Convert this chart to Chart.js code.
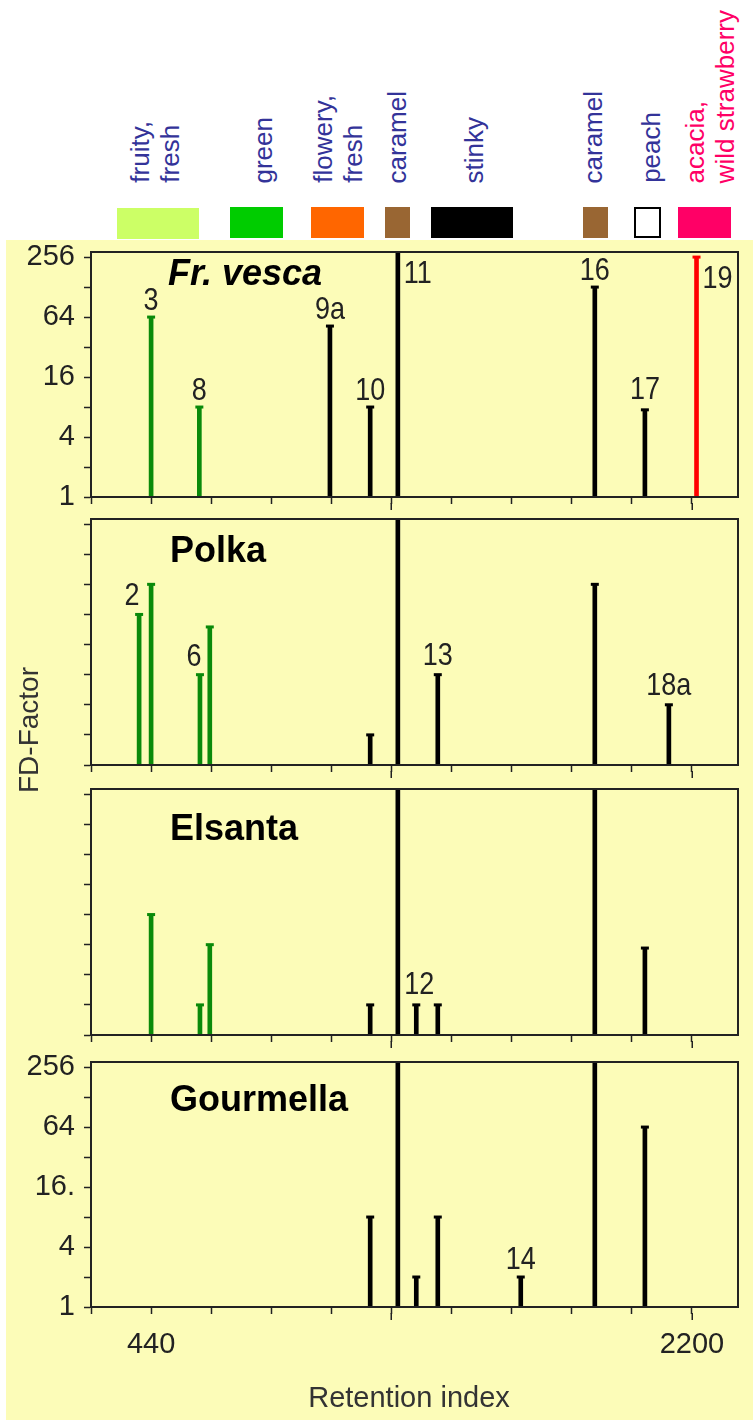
<!DOCTYPE html>
<html>
<head>
<meta charset="utf-8">
<script src="https://cdn.jsdelivr.net/npm/chart.js@4.4.1/dist/chart.umd.min.js"></script>
<style>
  body { margin: 0; background: #fff; }
  #wrap { position: relative; width: 753px; height: 1420px; overflow: hidden; font-family: "Liberation Sans", Arial, sans-serif; }
  #bg { position: absolute; left: 6px; top: 240px; width: 747px; height: 1180px; background: #fcfcb8; }
  .sw { position: absolute; top: 207px; height: 31px; }
  .lab { position: absolute; bottom: 1237px; writing-mode: vertical-rl; transform: rotate(180deg);
         font-size: 26px; line-height: 30px; color: #333399; white-space: nowrap; }
  canvas { position: absolute; left: 0; }
  #ylab { position: absolute; left: -71px; top: 713px; width: 200px; height: 34px; line-height: 34px;
          text-align: center; font-size: 28px; color: #333; transform: rotate(-90deg); }
  #xlab { position: absolute; left: 259px; top: 1380px; width: 300px; text-align: center;
          font-size: 29px; line-height: 34px; color: #333; }
</style>
</head>
<body>
<div id="wrap">
  <div id="bg"></div>

  <!-- odour colour key -->
  <div class="sw" style="left:117px;width:82px;top:208px;background:#ccff66"></div>
  <div class="sw" style="left:230px;width:53px;background:#00cc00"></div>
  <div class="sw" style="left:311px;width:53px;background:#ff6600"></div>
  <div class="sw" style="left:385px;width:25px;background:#996633"></div>
  <div class="sw" style="left:431px;width:82px;background:#000"></div>
  <div class="sw" style="left:583px;width:25px;background:#996633"></div>
  <div class="sw" style="left:634px;width:23px;height:27px;background:#fff;border:2px solid #000"></div>
  <div class="sw" style="left:678px;width:53px;background:#ff0066"></div>

  <div class="lab" style="left:125px">fruity,<br>fresh</div>
  <div class="lab" style="left:248px">green</div>
  <div class="lab" style="left:308px">flowery,<br>fresh</div>
  <div class="lab" style="left:382px">caramel</div>
  <div class="lab" style="left:459px">stinky</div>
  <div class="lab" style="left:578px">caramel</div>
  <div class="lab" style="left:636px">peach</div>
  <div class="lab" style="left:680px;color:#ff0066">acacia,<br>wild strawberry</div>

  <canvas id="p1"></canvas>
  <canvas id="p2"></canvas>
  <canvas id="p3"></canvas>
  <canvas id="p4"></canvas>

  <div id="ylab">FD-Factor</div>
  <div id="xlab">Retention index</div>
</div>

<script>
// axis ticks
const xTickValues = [244.4, 440, 635.6, 831.1, 1026.7, 1222.2, 1417.8, 1613.3, 1808.9, 2004.4, 2200]
const xTickLabels = ['', '440', '', '', '', '', '', '', '', '', '2200']
const yTickValues = [1, 2, 4, 8, 16, 32, 64, 128, 256]
const yTickLabels = ['1', '', '4', '', '16', '', '64', '', '256']
const yTickLabelsLast = ['1', '', '4', '', '16.', '', '64', '', '256']

// peaks: retention index, FD factor (512 = off scale), peak number shown
const vescaRI = [440, 597, 1022, 1153, 1243, 1884, 2047, 2215]
const vescaFD = [64, 8, 52, 8, 512, 128, 7.5, 256]
const vescaLabel = ['3', '8', '9a', '10', '11', '16', '17', '19']

const polkaRI = [401, 440, 599, 631, 1153, 1243, 1373, 1884, 2125]
const polkaFD = [32, 64, 8, 24, 2, 512, 8, 64, 4]
const polkaLabel = ['2', '', '6', '', '', '', '13', '', '18a']

const elsantaRI = [440, 599, 631, 1153, 1243, 1303, 1373, 1884, 2047]
const elsantaFD = [16, 2, 8, 2, 512, 2, 2, 512, 7.4]
const elsantaLabel = ['', '', '', '', '', '12', '', '', '']

const gourmellaRI = [1153, 1243, 1303, 1373, 1643, 1884, 2047]
const gourmellaFD = [8, 512, 2, 8, 2, 512, 64]
const gourmellaLabel = ['', '', '', '', '14', '', '']

const X_MIN = 244.4
const X_MAX = 2350
const Y_MAX = 288
const LONG_TICKS = [xTickValues[5], xTickValues[10]]

const AXIS = '#222'
const GREEN = '#0a8a0a'
const RED = '#ff0000'
const FONT = '"Liberation Sans", Arial, sans-serif'
const PAD = 30   // room above/below each box, larger than the tick label overhang

// label placement tweaks (style only)
const labelNudge = {
  '11': { side: true },
  '19': { side: true },
  '2': { dx: -7, gap: 9 },
  '6': { dx: -6, gap: 9 },
  '12': { dx: 3, gap: 11 },
  '13': { gap: 10 },
  '18a': { gap: 10 },
  '17': { gap: 11 },
  '14': { gap: 8 },
}

function stemColor(ri) {
  if (ri < 700) return GREEN
  if (ri > 2150) return RED
  return '#000'
}

function panelPlugin(p) {
  return {
    id: 'panelDeco',
    afterDraw(chart) {
      const ctx = chart.ctx
      const a = chart.chartArea
      const x = chart.scales.x
      const y = chart.scales.y
      ctx.save()

      ctx.strokeStyle = AXIS
      ctx.lineWidth = 2
      ctx.strokeRect(a.left, a.top, a.right - a.left, a.bottom - a.top)

      ctx.lineWidth = 1.5
      LONG_TICKS.forEach(v => {
        const px = Math.round(x.getPixelForValue(v)) + 0.25
        ctx.beginPath()
        ctx.moveTo(px, a.bottom + 6)
        ctx.lineTo(px, a.bottom + 13)
        ctx.stroke()
      })

      ctx.fillStyle = '#000'
      ctx.font = (p.italic ? 'italic ' : '') + 'bold 36px ' + FONT
      ctx.textAlign = 'left'
      ctx.textBaseline = 'alphabetic'
      ctx.fillText(p.title, p.titleX, a.top + p.titleDy)

      ctx.fillStyle = '#222'
      ctx.font = '27px ' + FONT
      p.labels.forEach((t, i) => {
        if (!t) return
        const px = x.getPixelForValue(p.ri[i])
        const capY = Math.max(y.getPixelForValue(p.fd[i]), a.top)
        const n = labelNudge[t] || {}
        let tx, base, align
        if (n.side) {
          tx = px + 6; base = capY + 31; align = 'left'
        } else {
          tx = px + (n.dx || 0); base = capY - (n.gap || 7); align = 'center'
        }
        ctx.save()
        ctx.translate(tx, base)
        ctx.scale(1, 1.15)
        ctx.textAlign = align
        ctx.fillText(t, 0, 0)
        ctx.restore()
      })
      ctx.restore()
    }
  }
}

function makePanel(id, boxTop, boxH, bottomExtra, ri, fd, labels, info) {
  const canvas = document.getElementById(id)
  const h = boxH + PAD + bottomExtra
  canvas.width = 753
  canvas.height = h
  canvas.style.top = (boxTop - PAD) + 'px'
  canvas.style.width = '753px'
  canvas.style.height = h + 'px'

  const colors = ri.map(stemColor)
  info.ri = ri
  info.fd = fd
  info.labels = labels

  return new Chart(canvas.getContext('2d'), {
    type: 'bar',
    data: {
      datasets: [
        {
          type: 'bar',
          data: ri.map((v, i) => ({ x: v, y: [1, fd[i]] })),
          backgroundColor: colors,
          barThickness: 4,
          grouped: false,
          clip: 0,
        },
        {
          type: 'scatter',
          data: ri.map((v, i) => ({ x: v, y: fd[i] })),
          pointStyle: 'line',
          pointRadius: 4,
          pointHoverRadius: 4,
          pointBorderWidth: 3,
          pointBorderColor: colors,
          pointBackgroundColor: colors,
          showLine: false,
          clip: 0,
        },
      ],
    },
    options: {
      responsive: false,
      animation: false,
      events: [],
      layout: { padding: { top: PAD, right: 15, left: 0, bottom: 0 } },
      plugins: { legend: { display: false }, tooltip: { enabled: false } },
      scales: {
        x: {
          type: 'linear',
          min: X_MIN,
          max: X_MAX,
          offset: false,
          afterBuildTicks: s => { s.ticks = xTickValues.map(v => ({ value: v })) },
          afterFit: s => { s.height = bottomExtra },
          ticks: {
            autoSkip: false,
            maxRotation: 0,
            minRotation: 0,
            padding: 14,
            color: '#222',
            font: { family: FONT, size: 29 },
            callback: (v, i) => info.showX ? xTickLabels[i] : '',
          },
          grid: { offset: false, drawOnChartArea: false, drawTicks: true, tickLength: 7, tickColor: AXIS, tickWidth: 1.5 },
          border: { display: true, color: AXIS, width: 2 },
        },
        y: {
          type: 'logarithmic',
          min: 1,
          max: Y_MAX,
          afterBuildTicks: s => { s.ticks = yTickValues.map(v => ({ value: v })) },
          afterFit: s => { s.width = 91 },
          ticks: {
            autoSkip: false,
            padding: 9,
            color: '#222',
            font: { family: FONT, size: 29 },
            callback: (v, i) => info.yLabels ? info.yLabels[i] : '',
          },
          grid: { drawOnChartArea: false, drawTicks: true, tickLength: 7, tickColor: AXIS, tickWidth: 1.5 },
          border: { display: true, color: AXIS, width: 2 },
        },
      },
    },
    plugins: [panelPlugin(info)],
  })
}

window.addEventListener('DOMContentLoaded', () => {
  makePanel('p1', 252, 245, PAD, vescaRI, vescaFD, vescaLabel,
    { title: 'Fr. vesca', italic: true, titleX: 168, titleDy: 33, yLabels: yTickLabels })
  makePanel('p2', 519, 246, PAD, polkaRI, polkaFD, polkaLabel,
    { title: 'Polka', titleX: 170, titleDy: 43 })
  makePanel('p3', 789, 246, PAD, elsantaRI, elsantaFD, elsantaLabel,
    { title: 'Elsanta', titleX: 170, titleDy: 51 })
  makePanel('p4', 1062, 245, 113, gourmellaRI, gourmellaFD, gourmellaLabel,
    { title: 'Gourmella', titleX: 170, titleDy: 49, yLabels: yTickLabelsLast, showX: true })
})
</script>
</body>
</html>
